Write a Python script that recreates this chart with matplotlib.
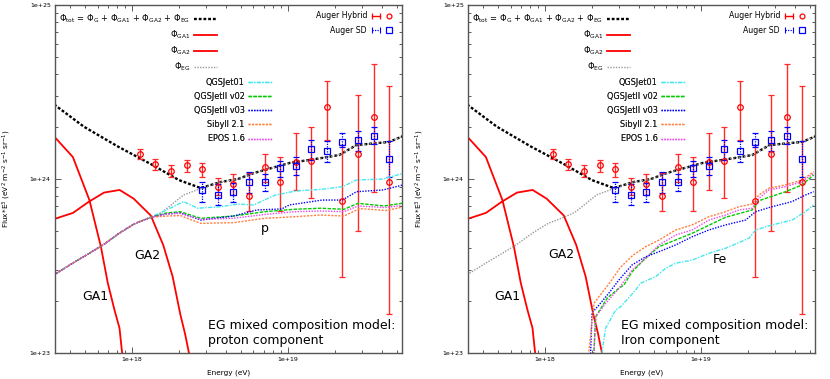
import numpy as np
import matplotlib
matplotlib.use("Agg")
import matplotlib.pyplot as plt
from matplotlib.lines import Line2D
from matplotlib.legend_handler import HandlerLine2D, HandlerTuple
from matplotlib.ticker import LogLocator, FuncFormatter, NullFormatter

# all numbers are log10: energy in eV, E^3 * flux in eV^2 m^-2 s^-1 sr^-1

# Auger hybrid spectrum (value, upper and lower end of error bar)
hyb_lgE = [18.05, 18.15, 18.25, 18.35, 18.45, 18.55, 18.65, 18.75, 18.85,
           18.95, 19.05, 19.15, 19.25, 19.35, 19.45, 19.55, 19.65]
hyb_lgF = [24.141, 24.084, 24.048, 24.079, 24.055, 23.956, 23.971, 23.902, 24.071,
           23.984, 24.099, 24.103, 24.412, 23.875, 24.142, 24.358, 23.981]
hyb_hi = [24.170, 24.115, 24.082, 24.112, 24.090, 24.004, 24.026, 24.037, 24.144,
          24.128, 24.263, 24.297, 24.565, 24.195, 24.483, 24.661, 24.536]
hyb_lo = [24.115, 24.052, 24.013, 24.042, 24.010, 23.908, 23.908, 23.816, 23.984,
          23.818, 23.937, 23.893, 24.224, 23.439, 23.703, 23.924, 23.224]

# Auger SD spectrum
sd_lgE = [18.45, 18.55, 18.65, 18.75, 18.85, 18.95, 19.05, 19.15, 19.25,
          19.35, 19.45, 19.55, 19.65]
sd_lgF = [23.937, 23.906, 23.925, 23.984, 23.983, 24.061, 24.076, 24.171, 24.159,
          24.213, 24.224, 24.247, 24.115]
sd_hi = [23.984, 23.971, 23.977, 24.040, 24.029, 24.103, 24.126, 24.224, 24.218,
         24.264, 24.276, 24.299, 24.218]
sd_lo = [23.870, 23.851, 23.868, 23.920, 23.931, 24.011, 24.023, 24.109, 24.098,
         24.184, 24.161, 24.201, 24.011]

# model components
tot_lgE = [17.50, 17.69, 17.91, 18.12, 18.30, 18.44, 18.57, 18.68, 18.78, 19.01,
           19.22, 19.33, 19.44, 19.65, 19.74]
tot_lgF = [24.428, 24.301, 24.186, 24.086, 23.994, 23.948, 23.983, 24.000, 24.034, 24.092,
           24.121, 24.138, 24.195, 24.213, 24.247]
ga1_lgE = [17.50, 17.62, 17.726, 17.80, 17.844, 17.887, 17.919, 17.934, 17.95]
ga1_lgF = [24.244, 24.126, 23.879, 23.61, 23.402, 23.247, 23.144, 23.017, 22.90]
ga2_lgE = [17.50, 17.62, 17.72, 17.82, 17.92, 18.01, 18.12, 18.20, 18.26, 18.31,
           18.34, 18.365, 18.39]
ga2_lgF = [23.770, 23.805, 23.868, 23.922, 23.937, 23.887, 23.790, 23.620, 23.440, 23.220,
           23.110, 23.0, 22.88]
eg_lgE = [17.50, 17.62, 17.72, 17.82, 17.92, 18.02, 18.12, 18.19, 18.25, 18.33, 18.44,
          18.57, 18.68, 18.78, 19.01, 19.22, 19.33, 19.44, 19.65, 19.74]
eg_lgF = [23.450, 23.517, 23.570, 23.625, 23.690, 23.745, 23.780, 23.808, 23.850, 23.908, 23.945,
          23.983, 24.000, 24.034, 24.092, 24.121, 24.138, 24.195, 24.213, 24.247]

# proton component (all models equal below 1.3e18)
p_base_lgE = [17.50, 17.62, 17.72, 17.82, 17.92, 18.02, 18.12]
p_base_lgF = [23.450, 23.517, 23.570, 23.625, 23.690, 23.745, 23.780]
p_qgs01_lgE = [18.22, 18.33, 18.42, 18.57, 18.68, 18.78, 18.92, 19.05, 19.22, 19.35, 19.44, 19.61, 19.74]
p_qgs01_lgF = [23.822, 23.870, 23.832, 23.841, 23.856, 23.851, 23.908, 23.931, 23.941, 23.956, 23.994, 24.000, 24.033]
p_v03_lgE = [18.22, 18.31, 18.44, 18.65, 18.80, 18.96, 19.01, 19.22, 19.35, 19.44, 19.61, 19.74]
p_v03_lgF = [23.799, 23.805, 23.764, 23.787, 23.822, 23.828, 23.851, 23.879, 23.879, 23.927, 23.937, 23.966]
p_v02_lgE = [18.22, 18.31, 18.44, 18.65, 18.85, 19.04, 19.21, 19.36, 19.45, 19.62, 19.74]
p_v02_lgF = [23.805, 23.812, 23.774, 23.787, 23.812, 23.826, 23.832, 23.826, 23.860, 23.845, 23.862]
p_epos_lgE = [18.22, 18.31, 18.44, 18.65, 18.85, 19.04, 19.21, 19.36, 19.45, 19.62, 19.74]
p_epos_lgF = [23.799, 23.802, 23.768, 23.774, 23.796, 23.812, 23.816, 23.812, 23.845, 23.836, 23.848]
p_sib_lgE = [18.22, 18.31, 18.44, 18.65, 18.85, 19.04, 19.21, 19.36, 19.46, 19.63, 19.74]
p_sib_lgF = [23.787, 23.790, 23.745, 23.749, 23.774, 23.783, 23.793, 23.787, 23.830, 23.819, 23.839]

# iron component
fe_qgs01_lgE = [18.36, 18.367, 18.389, 18.453, 18.485, 18.581, 18.613, 18.710, 18.774, 18.838,
                18.944, 19.051, 19.158, 19.308, 19.351, 19.457, 19.585, 19.671, 19.724]
fe_qgs01_lgF = [22.90, 23.017, 23.144, 23.247, 23.266, 23.362, 23.401, 23.439, 23.487, 23.516,
                23.534, 23.573, 23.602, 23.659, 23.707, 23.736, 23.764, 23.812, 23.851]
fe_v02_lgE = [18.305, 18.314, 18.325, 18.399, 18.474, 18.506, 18.558, 18.646, 18.731, 18.944,
              19.158, 19.329, 19.372, 19.543, 19.649, 19.724]
fe_v02_lgF = [22.90, 23.017, 23.209, 23.316, 23.372, 23.391, 23.466, 23.546, 23.611, 23.688,
              23.780, 23.822, 23.875, 23.927, 23.966, 24.023]
fe_v03_lgE = [18.285, 18.293, 18.301, 18.346, 18.410, 18.474, 18.558, 18.646, 18.731, 18.838,
              18.944, 19.051, 19.158, 19.287, 19.351, 19.457, 19.585, 19.671, 19.724]
fe_v03_lgF = [22.90, 23.017, 23.230, 23.276, 23.345, 23.420, 23.506, 23.553, 23.582, 23.621,
              23.668, 23.707, 23.736, 23.764, 23.812, 23.841, 23.870, 23.908, 23.927]
fe_sib_lgE = [18.26, 18.28, 18.314, 18.346, 18.421, 18.480, 18.565, 18.646, 18.731, 18.838,
              18.944, 19.051, 19.158, 19.244, 19.329, 19.372, 19.436, 19.543, 19.649, 19.724]
fe_sib_lgF = [22.85, 23.0, 23.286, 23.324, 23.411, 23.489, 23.563, 23.611, 23.649, 23.707,
              23.736, 23.783, 23.812, 23.841, 23.856, 23.908, 23.947, 23.966, 23.994, 24.042]
fe_epos_lgE = [18.305, 18.314, 18.325, 18.389, 18.474, 18.558, 18.646, 18.731, 18.838, 18.944,
               19.051, 19.158, 19.244, 19.329, 19.372, 19.436, 19.543, 19.649, 19.724]
fe_epos_lgF = [22.90, 23.017, 23.209, 23.286, 23.372, 23.477, 23.544, 23.621, 23.678, 23.707,
               23.764, 23.793, 23.822, 23.832, 23.889, 23.937, 23.956, 23.984, 24.033]

model_names = ['QGSJet01', 'QGSJetII v02', 'QGSJetII v03', 'Sibyll 2.1', 'EPOS 1.6']
model_colors = ['#44e8ee', '#00cc00', '#0000ff', '#ff8040', '#ee44ee']
model_ls = [(0, (3, 1, 1, 1)), (0, (2.5, 1)), (0, (1, 1)), (0, (1.5, 1)), (0, (1, 1))]

p_models = [(np.r_[p_base_lgE, p_qgs01_lgE], np.r_[p_base_lgF, p_qgs01_lgF]),
            (np.r_[p_base_lgE, p_v02_lgE], np.r_[p_base_lgF, p_v02_lgF]),
            (np.r_[p_base_lgE, p_v03_lgE], np.r_[p_base_lgF, p_v03_lgF]),
            (np.r_[p_base_lgE, p_sib_lgE], np.r_[p_base_lgF, p_sib_lgF]),
            (np.r_[p_base_lgE, p_epos_lgE], np.r_[p_base_lgF, p_epos_lgF])]
fe_models = [(fe_qgs01_lgE, fe_qgs01_lgF), (fe_v02_lgE, fe_v02_lgF), (fe_v03_lgE, fe_v03_lgF),
             (fe_sib_lgE, fe_sib_lgF), (fe_epos_lgE, fe_epos_lgF)]


def L(a):
    return 10.0 ** np.asarray(a, dtype=float)


fig = plt.figure(figsize=(8.3, 3.79), dpi=100)
ax_p = fig.add_axes([55 / 830, 26 / 379, 347 / 830, 348 / 379])
ax_fe = fig.add_axes([468 / 830, 26 / 379, 347 / 830, 348 / 379])

tot_style = dict(color='black', lw=1.7, ls=(0, (1.2, 0.8)))
ga_style = dict(color='#ff0000', lw=1.3, ls='-')
eg_style = dict(color='#999999', lw=1.0, ls=(0, (1, 1)))

panels = [(ax_p, p_models, 'proton component', 'p', (0.605, 0.359), (0.115, 0.161), (0.265, 0.279)),
          (ax_fe, fe_models, 'Iron component', 'Fe', (0.726, 0.270), (0.112, 0.161), (0.268, 0.282))]

for ax, models, comp, tag, tagpos, ga1pos, ga2pos in panels:
    ax.plot(L(tot_lgE), L(tot_lgF), **tot_style)
    ax.plot(L(ga1_lgE), L(ga1_lgF), **ga_style)
    ax.plot(L(ga2_lgE), L(ga2_lgF), **ga_style)
    ax.plot(L(eg_lgE), L(eg_lgF), **eg_style)

    F = L(hyb_lgF)
    ax.errorbar(L(hyb_lgE), F, yerr=[F - L(hyb_lo), L(hyb_hi) - F], fmt='o', ms=4,
                mfc='none', mec='#ff0000', mew=0.9, ecolor='#ff2a2a', elinewidth=1.0,
                capsize=2, capthick=0.9)
    F = L(sd_lgF)
    eb = ax.errorbar(L(sd_lgE), F, yerr=[F - L(sd_lo), L(sd_hi) - F], fmt='s', ms=4.5,
                     mfc='none', mec='#0000ff', mew=0.9, ecolor='#0000ff', elinewidth=0.9,
                     capsize=2, capthick=0.8)
    eb[2][0].set_linestyle((0, (1, 1)))

    for (lgE, lgF), c, ls in zip(models, model_colors, model_ls):
        ax.plot(L(lgE), L(lgF), color=c, ls=ls, lw=1.0)

    ax.set_xscale('log')
    ax.set_yscale('log')
    ax.set_xlim(3.2e17, 5.4e19)
    ax.set_ylim(1e23, 1e25)
    fmt = FuncFormatter(lambda v, p: '1e+%d' % round(np.log10(v)))
    ax.xaxis.set_major_formatter(fmt)
    ax.yaxis.set_major_formatter(fmt)
    for axis in (ax.xaxis, ax.yaxis):
        axis.set_minor_locator(LogLocator(base=10, subs=np.arange(2, 10)))
        axis.set_minor_formatter(NullFormatter())
    ax.tick_params(which='both', direction='in', top=True, right=True,
                   labelsize=4.5, width=0.6, color='#404040')
    ax.tick_params(which='major', length=4, pad=3)
    ax.tick_params(which='minor', length=2)
    for s in ax.spines.values():
        s.set_color('#555555')
        s.set_linewidth(1.0)

    ax.set_xlabel('Energy (eV)', fontsize=5.3)
    ax.xaxis.set_label_coords(0.5, -0.048)
    ax.set_ylabel('Flux*E$^3$ (eV$^2$ m$^{-2}$ s$^{-1}$ sr$^{-1}$)', fontsize=5.3)
    ax.yaxis.set_label_coords(-0.121, 0.5)

    # legends in gnuplot style (text left of sample, right aligned)
    h1 = [Line2D([], [], **tot_style), Line2D([], [], **ga_style),
          Line2D([], [], **ga_style), Line2D([], [], **eg_style)]
    l1 = [r'$\Phi_{\rm tot}$ = $\Phi_{\rm G}$ + $\Phi_{\rm GA1}$ + $\Phi_{\rm GA2}$ + $\Phi_{\rm EG}$',
          r'$\Phi_{\rm GA1}$', r'$\Phi_{\rm GA2}$', r'$\Phi_{\rm EG}$']
    leg1 = ax.legend(h1, l1, loc='upper right', bbox_to_anchor=(0.467, 0.978), frameon=False,
                     markerfirst=False, fontsize=6.0, handlelength=2.8, handletextpad=0.4,
                     borderpad=0, borderaxespad=0, labelspacing=0.42)
    ax.add_artist(leg1)

    hyb_caps = Line2D([], [], color='#ff0000', lw=1.0, marker='|', ms=4, mew=0.9)
    hyb_dot = Line2D([], [], ls='none', marker='o', ms=3.5, mfc='none', mec='#ff0000', mew=0.9)
    sd_caps = Line2D([], [], color='#0000ff', lw=0.9, ls=(0, (1, 1)), marker='|', ms=4, mew=0.8)
    sd_dot = Line2D([], [], ls='none', marker='s', ms=3.8, mfc='none', mec='#0000ff', mew=0.9)
    leg2 = ax.legend([(hyb_caps, hyb_dot), (sd_caps, sd_dot)], ['Auger Hybrid', 'Auger SD'],
                     handler_map={hyb_caps: HandlerLine2D(numpoints=2), sd_caps: HandlerLine2D(numpoints=2),
                                  tuple: HandlerTuple(ndivide=None)},
                     loc='upper right', bbox_to_anchor=(0.98, 0.982), frameon=False,
                     markerfirst=False, fontsize=5.6, handlelength=3.3, handletextpad=0.3,
                     borderpad=0, borderaxespad=0, labelspacing=0.75)
    ax.add_artist(leg2)

    h3 = [Line2D([], [], color=c, ls=ls, lw=1.0) for c, ls in zip(model_colors, model_ls)]
    leg3 = ax.legend(h3, model_names, loc='upper right', bbox_to_anchor=(0.625, 0.79),
                     frameon=False, markerfirst=False, fontsize=5.9, handlelength=2.9,
                     handletextpad=0.4, borderpad=0, borderaxespad=0, labelspacing=0.62)
    for t in leg3.get_texts():
        t.set_color('#222222')
    ax.add_artist(leg3)

    ax.text(ga1pos[0], ga1pos[1], 'GA1', transform=ax.transAxes, fontsize=9, ha='center', va='center')
    ax.text(ga2pos[0], ga2pos[1], 'GA2', transform=ax.transAxes, fontsize=9, ha='center', va='center')
    ax.text(tagpos[0], tagpos[1], tag, transform=ax.transAxes, fontsize=9, ha='center', va='center')
    ax.text(0.44, 0.080, 'EG mixed composition model:', transform=ax.transAxes, fontsize=9,
            ha='left', va='center')
    ax.text(0.44, 0.037, comp, transform=ax.transAxes, fontsize=9, ha='left', va='center')

fig.savefig('out.png', dpi=100)
